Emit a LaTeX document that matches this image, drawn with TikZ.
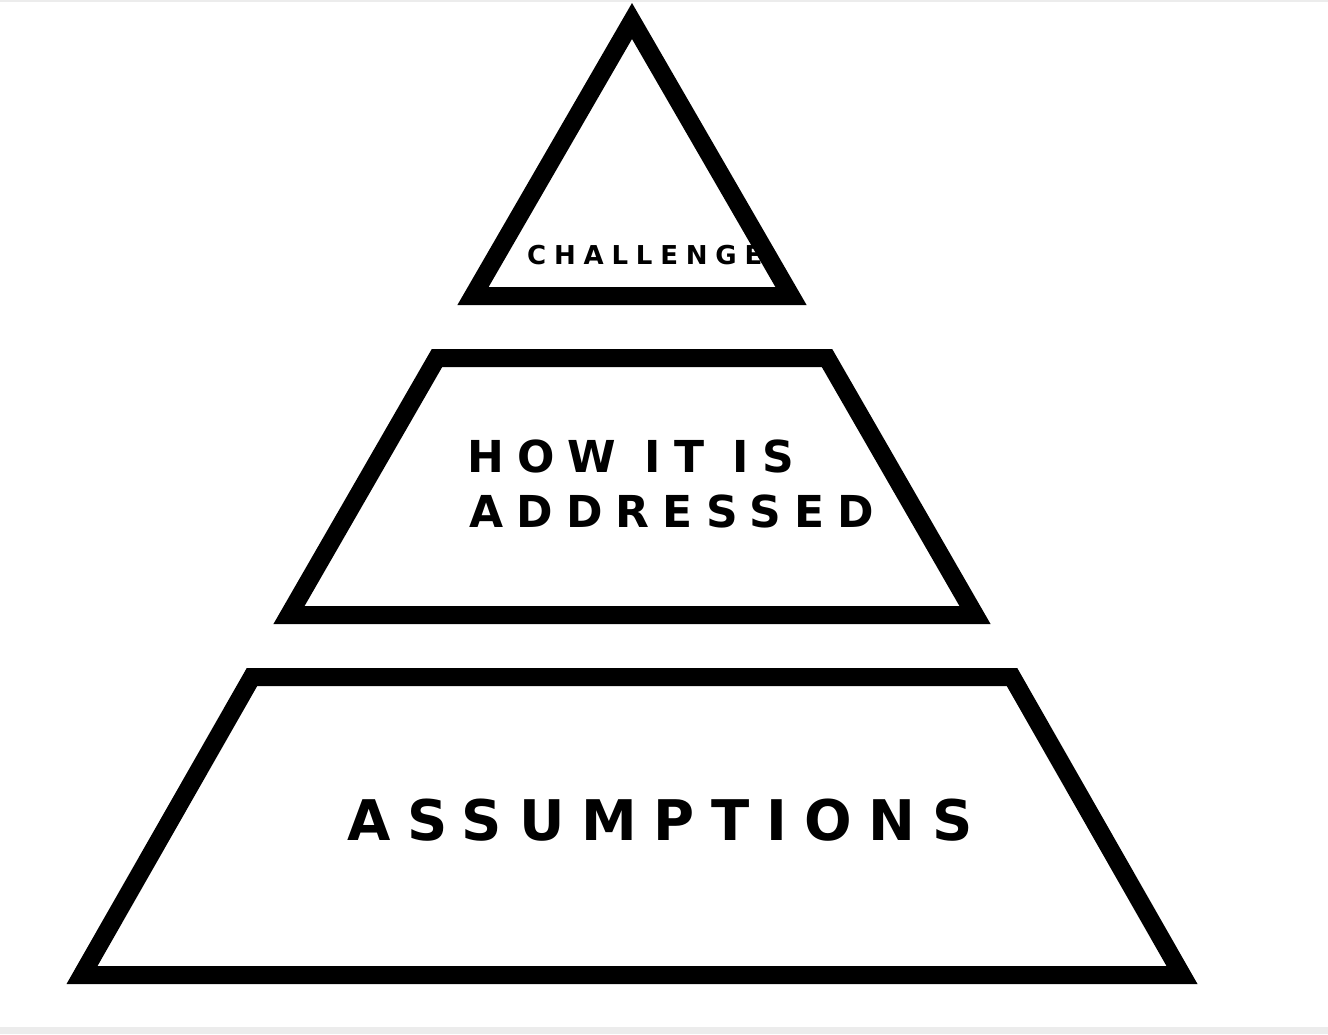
\documentclass[tikz,border=0pt]{standalone}
\usepackage{fontspec}
\setmainfont{DejaVu Sans}
\newfontfamily\lblfont[LetterSpace=30]{DejaVu Sans Bold}
\begin{document}
\begin{tikzpicture}[x=1pt,y=-1pt,
  tier/.style={draw=black,line width=18pt,miter limit=20,line join=miter},
  lbl/.style={anchor=base west,inner sep=0pt,font=\lblfont,align=left}]
\useasboundingbox (0,0) rectangle (1328,1034);
\fill[white] (0,0) rectangle (1328,1034);
\fill[gray!15] (0,1027) rectangle (1328,1034);
\draw[gray!15,line width=1.5pt] (0,1) -- (1328,1);
\draw[tier] (632,21) -- (791,296) -- (473,296) -- cycle;
\draw[tier] (437,358) -- (827,358) -- (975,615) -- (289,615) -- cycle;
\draw[tier] (252,677) -- (1012,677) -- (1182,975) -- (82,975) -- cycle;
\node[lbl,font=\lblfont\fontsize{26}{30}\selectfont] (c) at (527,264) {CHALLENGE};
\node[lbl,font=\lblfont\fontsize{44}{55}\selectfont] (h) at (467,472) {HOW IT IS};
\node[lbl,font=\lblfont\fontsize{44}{55}\selectfont] (d) at (469,527) {ADDRESSED};
\node[lbl,font=\lblfont\fontsize{56}{60}\selectfont] (a) at (347,840) {ASSUMPTIONS};
\end{tikzpicture}
\end{document}
